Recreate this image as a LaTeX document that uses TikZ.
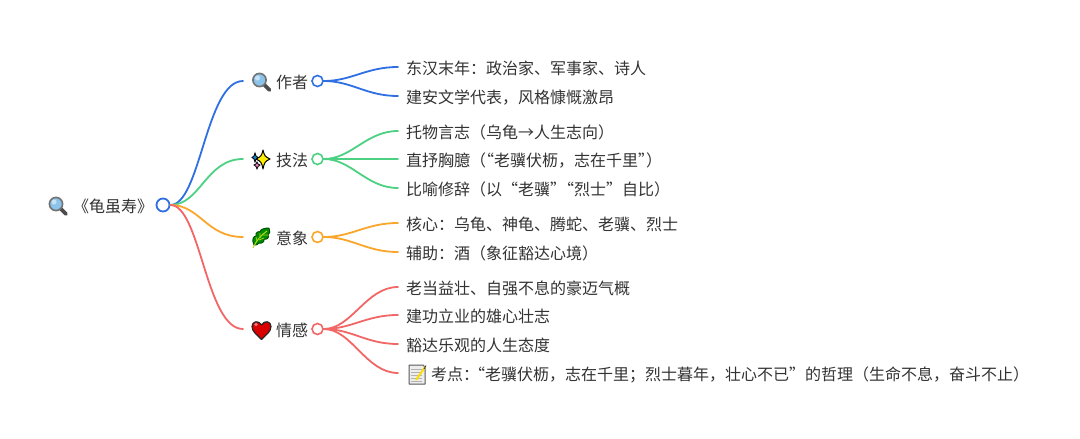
\documentclass[tikz,border=0pt]{standalone}
\usepackage{fontspec}
\setmainfont{Noto Sans CJK SC}
\definecolor{cblue}{HTML}{2F6FE4}
\definecolor{cgreen}{HTML}{4CD183}
\definecolor{corange}{HTML}{F9A62B}
\definecolor{cred}{HTML}{F26666}
\definecolor{ink}{HTML}{333333}
\definecolor{lensblue}{HTML}{8CC3EA}
\tikzset{
  x=1pt,y=-1pt,
  lab/.style={anchor=west,inner xsep=8pt,inner ysep=0pt,text=ink,font=\fontsize{16}{18}\selectfont,text height=14.5pt,text depth=0.5pt},
  rootdot/.style={circle,draw=cblue,fill=white,line width=1.8pt,minimum size=13pt,inner sep=0pt},
  dot/.style={circle,fill=white,line width=1.6pt,minimum size=11pt,inner sep=0pt},
  link/.style={line width=1.8pt,line cap=round},
  pics/lens/.style={code={
    \draw[line width=3.6pt,draw=black!70,line cap=round] (3.5,3.5)--(8.5,8.5);
    \draw[line width=1.6pt,draw=black!55,fill=lensblue] (-1.5,-1.5) circle (6.6);
    \fill[white,opacity=.5] (-3.5,-3.5) circle (2.6);
  }},
  pics/spark/.style={code={
    \draw[line width=1pt,draw=black,fill=yellow!95!orange,line join=round] (2,-10) .. controls (3.5,-4) and (4,-3.5) .. (9,-1) .. controls (4,1.5) and (3.5,2) .. (2,9) .. controls (0.5,2) and (0,1.5) .. (-5,-1) .. controls (0,-3.5) and (0.5,-4) .. (2,-10) -- cycle;
    \draw[line width=.8pt,draw=black,fill=cyan!70!blue] (-6,-7) -- (-5,-4) -- (-3,-2.5) -- (-5,-1) -- (-6,2) -- (-7,-1) -- (-9,-2.5) -- (-7,-4) -- cycle;
    \draw[line width=.8pt,draw=black,fill=magenta!50] (-4,2) -- (-3,4) -- (-1,5) -- (-3,6.5) -- (-4,9) -- (-5,6.5) -- (-7,5) -- (-5,4) -- cycle;
  }},
  pics/herb/.style={code={
    \draw[line width=.9pt,draw=black!70!green,fill=green!55!black,line join=round] (-7,7) .. controls (-10,1) and (-7,-2) .. (-5,-2) .. controls (-6,-6) and (-2,-7) .. (-1,-6) .. controls (-1,-9) and (4,-10) .. (8,-10) .. controls (9,-6) and (9,-4) .. (7,-3) .. controls (9,0) and (5,2) .. (3,1) .. controls (4,4) and (0,6) .. (-2,5) .. controls (-3,7) and (-5,7) .. (-7,7) -- cycle;
    \draw[line width=1pt,draw=yellow!70!green] (-8,10) .. controls (-5,3) and (0,-3) .. (6,-7);
    \draw[line width=.7pt,draw=yellow!70!green] (-4,3) -- (-5,-1) (-1,0) -- (-1,-5) (-2,2) -- (3,0) (2,-3) -- (7,-3);
  }},
  pics/heart/.style={code={
    \draw[line width=1.2pt,draw=black!85,fill=red!85!black,line join=round] (0,9.5) .. controls (-4,5) and (-9.5,2) .. (-9.5,-3.5) .. controls (-9.5,-9) and (-2.5,-10) .. (0,-5) .. controls (2.5,-10) and (9.5,-9) .. (9.5,-3.5) .. controls (9.5,2) and (4,5) .. (0,9.5) -- cycle;
    \fill[red!35!white,opacity=.7] (-5.5,-5.5) circle (1.8);
  }},
  pics/memo/.style={code={
    \draw[line width=1pt,draw=black!65,fill=white!93!black,line join=round] (-8,-9) -- (6,-9) -- (8,-7) -- (8,10) -- (-8,10) -- cycle;
    \draw[line width=.5pt,draw=black!30] (-6,-5) -- (5,-5) (-6,-2) -- (5,-2) (-6,1) -- (5,1) (-6,4) -- (5,4) (-6,7) -- (5,7);
    \draw[line width=2pt,draw=yellow!80!orange] (-1,6) -- (8,-7);
    \draw[line width=.8pt,draw=black!80] (9,-8.5) -- (7,-5);
  }},
}
\begin{document}
\begin{tikzpicture}
\useasboundingbox (0,0) rectangle (1080,439);
\fill[white] (0,0) rectangle (1080,439);
% root
\node[lab,inner xsep=0pt] (root) at (73,205) {《龟虽寿》};
\node[rootdot] (r) at (163,205) {};
\pic at (57.5,205.5) {lens};
% level 1
\node[lab] (a) at (243,81) {\hspace*{25pt}作者};
\node[lab] (b) at (243,159) {\hspace*{25pt}技法};
\node[lab] (c) at (243,237) {\hspace*{25pt}意象};
\node[lab] (d) at (243,329) {\hspace*{25pt}情感};
\node[dot,draw=cblue] (ad) at (317.5,81) {};
\node[dot,draw=cgreen] (bd) at (317.5,159) {};
\node[dot,draw=corange] (cd) at (317.5,237) {};
\node[dot,draw=cred] (dd) at (317.5,329) {};
\pic at (261,81.5) {lens};
\pic at (261,160) {spark};
\pic at (261,238) {herb};
\pic at (261.5,330) {heart};
% leaves
\node[lab] (a1) at (398,67) {东汉末年：政治家、军事家、诗人};
\node[lab] (a2) at (398,96) {建安文学代表，风格慷慨激昂};
\node[lab] (b1) at (398,131) {托物言志（乌龟→人生志向）};
\node[lab] (b2) at (398,159) {直抒胸臆（\hspace{-8pt}“老骥伏枥，志在千里”\hspace{-8pt}）};
\node[lab] (b3) at (398,188) {比喻修辞（以“老骥”\hspace{-8pt}“烈士”自比）};
\node[lab] (c1) at (398,223) {核心：乌龟、神龟、腾蛇、老骥、烈士};
\node[lab] (c2) at (398,252) {辅助：酒（象征豁达心境）};
\node[lab] (d1) at (398,287) {老当益壮、自强不息的豪迈气概};
\node[lab] (d2) at (398,315) {建功立业的雄心壮志};
\node[lab] (d3) at (398,344) {豁达乐观的人生态度};
\node[lab] (d4) at (398,373) {\hspace*{25pt}考点：\hspace{-10pt}“老骥伏枥，志在千里；烈士暮年，壮心不已”的哲理（生命不息，奋斗不止）};
\pic at (417,374) {memo};
% connectors
\foreach \t/\co in {a/cblue,b/cgreen,c/corange,d/cred}
  \draw[link,draw=\co] (r.east) .. controls +(30,0) and +(-37,0) .. (\t.west);
\foreach \t in {a1,a2}
  \draw[link,draw=cblue] (ad.east) .. controls +(28,0) and +(-32,0) .. (\t.west);
\foreach \t in {b1,b2,b3}
  \draw[link,draw=cgreen] (bd.east) .. controls +(28,0) and +(-32,0) .. (\t.west);
\foreach \t in {c1,c2}
  \draw[link,draw=corange] (cd.east) .. controls +(28,0) and +(-32,0) .. (\t.west);
\foreach \t in {d1,d2,d3,d4}
  \draw[link,draw=cred] (dd.east) .. controls +(28,0) and +(-32,0) .. (\t.west);
\end{tikzpicture}
\end{document}
